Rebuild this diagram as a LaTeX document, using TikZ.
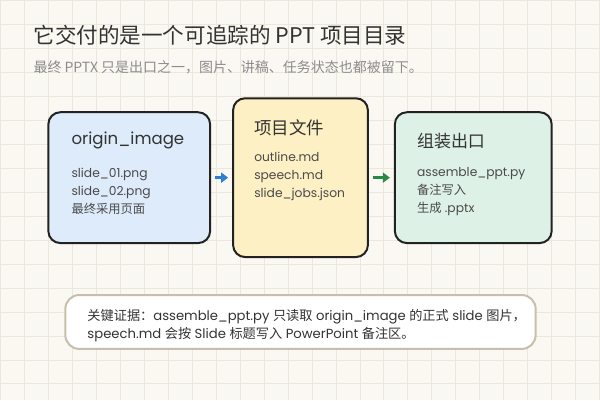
\documentclass[tikz,border=0pt]{standalone}
\usepackage{fontspec}
\setmainfont{Noto Sans CJK SC}
\newfontfamily\lat{Poppins}
\usetikzlibrary{arrows.meta}
\definecolor{bgc}{HTML}{FAF8F2}
\definecolor{gridc}{HTML}{ECE7DA}
\definecolor{fillA}{HTML}{DDEBFB}
\definecolor{fillB}{HTML}{FDF0C4}
\definecolor{fillC}{HTML}{DDF1E6}
\definecolor{edgec}{HTML}{222222}
\definecolor{notec}{HTML}{C8BEAD}
\definecolor{txt}{HTML}{333333}
\definecolor{body}{HTML}{4A4A4A}
\definecolor{subc}{HTML}{8C8C8C}
\definecolor{arrA}{HTML}{2F7ED2}
\definecolor{arrB}{HTML}{2A8A45}
\newcommand{\C}[1]{{\rmfamily #1}}
\tikzset{
  box/.style={draw=edgec, line width=2pt, rounded corners=12pt, inner sep=0pt},
  head/.style={anchor=west, inner sep=0pt, text=txt, font=\fontsize{17}{20}\selectfont\lat},
  lines/.style={anchor=north west, inner sep=0pt, text=body, align=left, font=\fontsize{12.3}{18}\selectfont\lat},
  arr/.style={line width=3pt, -{Triangle[length=7pt,width=10pt]}, shorten <=4pt, shorten >=4pt},
}
\begin{document}
\begin{tikzpicture}[x=1pt,y=-1pt]
\fill[bgc] (0,0) rectangle (600,400);
\draw[gridc, line width=0.8pt] (0,0) grid[step=24pt] (600,400);
\useasboundingbox (0,0) rectangle (600,400);

\node[anchor=west, inner sep=0pt, text=txt, font=\fontsize{21.6}{24}\selectfont] (title) at (33,35) {它交付的是一个可追踪的 PPT 项目目录};
\node[anchor=west, inner sep=0pt, text=subc, font=\fontsize{14}{16}\selectfont] (sub) at (33,67) {最终 PPTX 只是出口之一，图片、讲稿、任务状态也都被留下。};

\node[box, fill=fillA, minimum width=162pt, minimum height=131pt] (b1) at (129,177.5) {};
\node[box, fill=fillB, minimum width=135pt, minimum height=159pt] (b2) at (300.5,177.5) {};
\node[box, fill=fillC, minimum width=157pt, minimum height=131pt] (b3) at (473.5,177.5) {};

\node[head, font=\fontsize{16.6}{20}\selectfont\lat] (h1) at (71,140) {origin\_image};
\node[lines] (t1) at (71,168) {slide\_01.png\\slide\_02.png\\\C{最终采用页面}};

\node[head, font=\fontsize{17.5}{20}\selectfont\rmfamily] (h2) at (254,128) {项目文件};
\node[lines] (t2) at (254,152) {outline.md\\speech.md\\slide\_jobs.json};

\node[head, font=\fontsize{17}{20}\selectfont\rmfamily] (h3) at (417,141) {组装出口};
\node[lines] (t3) at (417,167) {assemble\_ppt.py\\\C{备注写入}\\\C{生成} .pptx};

\draw[arr, arrA] (b1) -- (b2);
\draw[arr, arrB] (b2) -- (b3);

\node[draw=notec, line width=2pt, rounded corners=14pt, fill=white, minimum width=471pt, minimum height=54pt, inner sep=0pt] (note) at (300.5,322) {};
\node[lines, text=txt, font=\fontsize{13.2}{18}\selectfont\lat] (nt) at (87,309) {\C{关键证据：}assemble\_ppt.py \C{只读取} origin\_image \C{的正式} slide \C{图片，}\\speech.md \C{会按} Slide \C{标题写入} PowerPoint \C{备注区。}};
\end{tikzpicture}
\end{document}
